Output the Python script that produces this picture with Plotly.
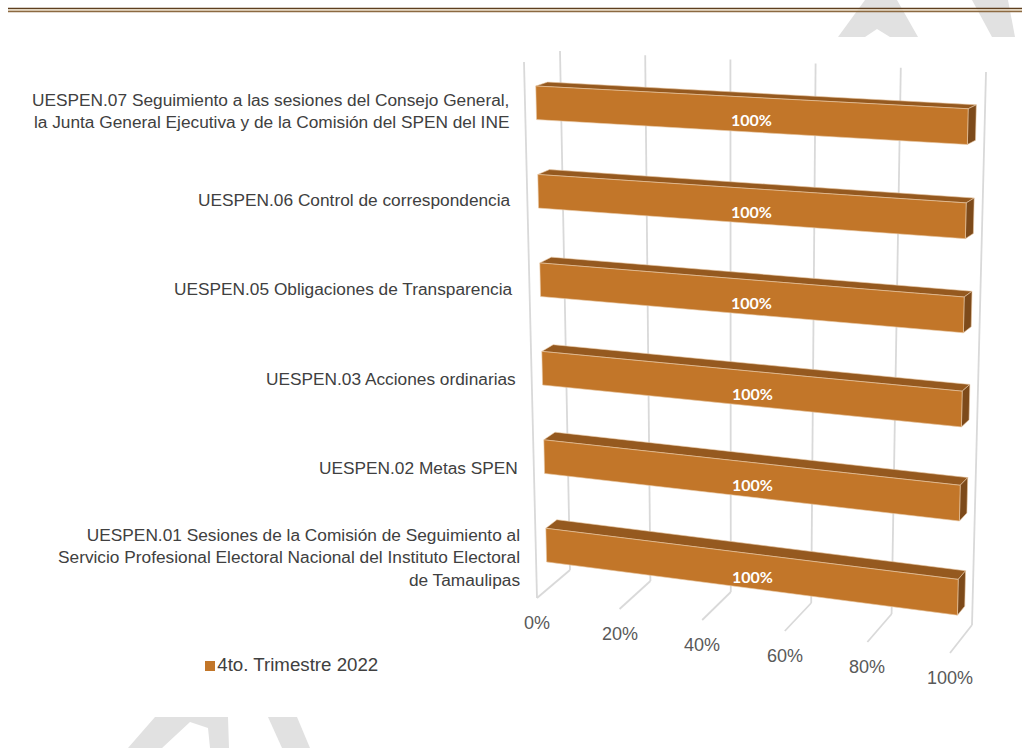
import plotly.graph_objects as go

# data (bottom -> top, as Excel stacks the categories)
categories = [
    "UESPEN.01 Sesiones de la Comisión de Seguimiento al<br>Servicio Profesional Electoral Nacional del Instituto Electoral<br>de Tamaulipas",
    "UESPEN.02 Metas SPEN",
    "UESPEN.03 Acciones ordinarias",
    "UESPEN.05 Obligaciones de Transparencia",
    "UESPEN.06 Control de correspondencia",
    "UESPEN.07 Seguimiento a las sesiones del Consejo General,<br>la Junta General Ejecutiva y de la Comisión del SPEN del INE",
]
values = [100, 100, 100, 100, 100, 100]
tick_values = [0, 20, 40, 60, 80, 100]
tick_labels = ["0%", "20%", "40%", "60%", "80%", "100%"]
series_name = "4to. Trimestre 2022"
axis_max = 100

FRONT = "#C27629"
TOP = "#95591F"
SIDE = "#7D4A1A"
GRID = "#D9D9D9"
TEXT = "#404040"
FONT = "Liberation Sans, Arial, sans-serif"

# page position of the corners of the 3-D chart box:
# (value 0/1, height 0 floor/1 top, depth 0 back/1 front) -> pixel
BOX = {
    (0, 1, 0): (560, 51), (0, 0, 0): (570, 570),
    (0, 1, 1): (524, 62), (0, 0, 1): (537, 598),
    (1, 1, 0): (986, 72), (1, 0, 0): (972, 625),
    (1, 1, 1): (961, 83), (1, 0, 1): (950, 653),
}

BAR_DEPTH = (0.36, 0.69)   # back / front of the bars inside the box
BAR_SIZE = 0.38            # share of a category slot filled by a bar


def project(v, h, d):
    """Perspective-ish projection of the chart box (trilinear on its corners)."""
    x = y = 0.0
    for i in (0, 1):
        for j in (0, 1):
            for k in (0, 1):
                w = (v if i else 1 - v) * (h if j else 1 - h) * (d if k else 1 - d)
                px, py = BOX[(i, j, k)]
                x += w * px
                y += w * py
    return x, y


def polygon(points):
    xs, ys = [], []
    for p in points:
        px, py = project(*p)
        xs.append(px)
        ys.append(py)
    xs += [xs[0], None]
    ys += [ys[0], None]
    return xs, ys


n = len(categories)
db, df = BAR_DEPTH

# gridlines: back wall, floor and the left wall front edge
gx, gy = [], []
for t in tick_values:
    v = t / axis_max
    for a, b in [((v, 0, 0), (v, 1, 0)), ((v, 0, 0), (v, 0, 1))]:
        (x0, y0), (x1, y1) = project(*a), project(*b)
        gx += [x0, x1, None]
        gy += [y0, y1, None]
(x0, y0), (x1, y1) = project(0, 0, 1), project(0, 1, 1)
gx += [x0, x1, None]
gy += [y0, y1, None]

fig = go.Figure()
fig.add_trace(go.Scatter(x=gx, y=gy, mode="lines", line=dict(color=GRID, width=1.8),
                         hoverinfo="skip", showlegend=False))

front_x, front_y, top_x, top_y, side_x, side_y = [], [], [], [], [], []
for i, val in enumerate(values):
    v = val / axis_max
    hc = (i + 0.5) / n
    hb, ht = hc - BAR_SIZE / n / 2, hc + BAR_SIZE / n / 2
    xs, ys = polygon([(0, hb, df), (v, hb, df), (v, ht, df), (0, ht, df)])
    front_x += xs
    front_y += ys
    xs, ys = polygon([(0, ht, df), (v, ht, df), (v, ht, db), (0, ht, db)])
    top_x += xs
    top_y += ys
    xs, ys = polygon([(v, hb, df), (v, hb, db), (v, ht, db), (v, ht, df)])
    side_x += xs
    side_y += ys

for xs, ys, col in [(top_x, top_y, TOP), (side_x, side_y, SIDE), (front_x, front_y, FRONT)]:
    fig.add_trace(go.Scatter(x=xs, y=ys, mode="lines", fill="toself", fillcolor=col,
                             line=dict(color="#E9C9A6", width=0.6),
                             hoverinfo="skip", showlegend=False))

# data labels
for i, val in enumerate(values):
    hc = (i + 0.5) / n
    lx, ly = project(val / axis_max / 2, hc, df)
    fig.add_annotation(x=lx, y=ly, text=f"<b>{val}%</b>", showarrow=False, yshift=-5,
                       font=dict(family="Lato, Calibri, sans-serif", size=16, color="white"))

# category labels
for i, cat in enumerate(categories):
    hc = (i + 0.5) / n
    lx, ly = project(0, hc, 1)
    fig.add_annotation(x=lx, y=ly, text=cat, showarrow=False, xanchor="right", align="right",
                       xshift=-14, yshift=-4, font=dict(family=FONT, size=17.3, color=TEXT))

# value axis tick labels along the front edge of the floor
for t, lab in zip(tick_values, tick_labels):
    lx, ly = project(t / axis_max, 0, 1)
    fig.add_annotation(x=lx, y=ly, text=lab, showarrow=False, yshift=-25,
                       font=dict(family=FONT, size=18, color="#595959"))

# legend
fig.add_trace(go.Scatter(x=[210], y=[666], mode="markers+text", text=[series_name],
                         textposition="middle right", name=series_name,
                         marker=dict(symbol="square", size=10, color=FRONT),
                         textfont=dict(family=FONT, size=18.7, color=TEXT),
                         hoverinfo="skip", showlegend=False))

# header rule
for yy, col, w in [(8.5, "#5E3F1F", 1.6), (10.0, "#E6D7BE", 1.3), (11.5, "#8C6A42", 1.3)]:
    fig.add_shape(type="line", x0=8, x1=1022, y0=yy, y1=yy, line=dict(color=col, width=w))

# fragments of the background watermark
for path in [
    "M 865 0 L 897 0 L 918 37 L 890 37 L 877 29 L 865 37 L 838 37 Z",
    "M 972 0 L 1008 0 L 1015 37 L 992 37 Z",
    "M 128 748 L 155 717 L 228 717 L 229 748 L 210 748 L 208 728 L 190 722 L 162 748 Z",
    "M 268 717 L 297 717 L 310 748 L 282 748 Z",
]:
    fig.add_shape(type="path", path=path, fillcolor="#E1E1E1", line=dict(width=0), layer="below")

fig.update_layout(
    width=1022,
    height=748,
    margin=dict(l=0, r=0, t=0, b=0),
    paper_bgcolor="white",
    plot_bgcolor="white",
    showlegend=False,
    xaxis=dict(range=[0, 1022], visible=False, fixedrange=True),
    yaxis=dict(range=[748, 0], visible=False, fixedrange=True),
)

fig.write_html("out.html", config={"displayModeBar": False},
               post_script="document.body.style.margin = '0';")
